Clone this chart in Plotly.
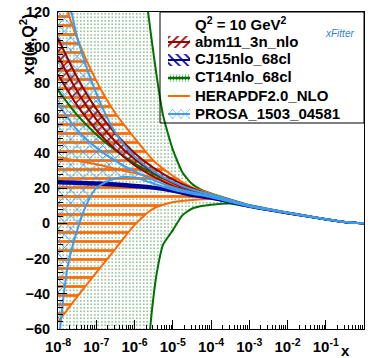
import plotly.graph_objects as go

# ---------------- data ----------------
EXP_STD = [-8, -7.5, -7, -6.5, -6, -5.5, -5, -4.5, -4, -3.5, -3, -2.5, -2, -1.5, -1, -0.5, 0]

ABM_UP  = [105, 83, 65, 51, 40, 31.5, 25, 20, 16.2, 13.0, 10.2, 8.0, 6.05, 4.2, 2.38, 0.75, 0.0]
ABM_CEN = [95, 75, 59, 46.5, 36.5, 29, 23, 18.8, 15.6, 12.6, 9.9, 7.8, 5.9, 4.1, 2.3, 0.7, 0.0]
ABM_LO  = [84.5, 67, 53, 42, 33, 26.5, 21.2, 17.6, 15.0, 12.2, 9.6, 7.6, 5.75, 4.0, 2.22, 0.65, 0.0]

CJ_UP  = [24.0, 23.7, 23.3, 22.7, 21.9, 20.8, 18.9, 16.3, 14.6, 12.2, 9.8, 7.8, 5.95, 4.15, 2.35, 0.72, 0.0]
CJ_CEN = [23.3, 23.0, 22.6, 22.0, 21.2, 20.2, 18.4, 15.9, 14.3, 12.0, 9.6, 7.7, 5.85, 4.1, 2.3, 0.7, 0.0]
CJ_LO  = [22.6, 22.3, 21.9, 21.3, 20.5, 19.6, 17.9, 15.5, 14.0, 11.8, 9.4, 7.6, 5.75, 4.05, 2.25, 0.68, 0.0]

CT_CEN = [75.5, 61.5, 50.5, 41.5, 34, 28, 23, 18.8, 15.4, 12.5, 9.8, 7.8, 5.9, 4.1, 2.3, 0.7, 0.0]
EXP_CT_UP = [-8, -7, -6.25, -6, -5.75, -5.5, -5.25, -5, -4.75, -4.5, -4.25, -4, -3.5, -3, -2.5, -2, -1.5, -1, -0.5, 0]
CT_UP = [1500, 700, 280, 205, 140, 96, 61, 42, 29, 22.5, 19, 17, 13.6, 10.4, 8.2, 6.2, 4.3, 2.45, 0.8, 0.0]
EXP_CT_LO = [-8, -7, -6.25, -6, -5.75, -5.6, -5.5, -5.4, -5.25, -5, -4.75, -4.5, -4.25, -4, -3.5, -3, -2.5, -2, -1.5, -1, -0.5, 0]
CT_LO = [-1500, -700, -330, -250, -110, -62, -41, -26, -12, -4, 4.5, 8.3, 9.8, 10.6, 11.3, 9.3, 7.4, 5.6, 3.9, 2.15, 0.6, 0.0]

HERA_UP  = [137, 105, 81, 62.5, 48.5, 35.5, 27, 20.5, 16.8, 13.2, 10.2, 8.0, 6.05, 4.2, 2.38, 0.75, 0.0]
HERA_CEN = [37.5, 35.5, 33.5, 31, 28.5, 26, 22.5, 19, 16, 12.7, 9.9, 7.8, 5.9, 4.1, 2.3, 0.7, 0.0]
HERA_LO  = [-56, -41.7, -28, -14.5, -1, 8.5, 12, 13.2, 13.8, 12.0, 9.5, 7.6, 5.75, 4.0, 2.2, 0.65, 0.0]

PROSA_UP  = [160, 106, 74, 51.5, 38, 29.5, 23.5, 19.2, 16.4, 13.3, 10.3, 8.1, 6.15, 4.25, 2.42, 0.78, 0.0]
PROSA_CEN = [68, 53, 43, 35.5, 29.5, 24.5, 20.5, 17.6, 15.6, 12.8, 10.0, 7.9, 6.0, 4.15, 2.35, 0.72, 0.0]
EXP_PR_LO = [-8, -7.75, -7.5, -7.25, -7, -6.5, -6, -5.5, -5, -4.5, -4, -3.5, -3, -2.5, -2, -1.5, -1, -0.5, 0]
PROSA_LO  = [-72, -25, -4, 11, 20, 25.5, 26.0, 22.5, 19.2, 16.8, 14.8, 12.2, 9.6, 7.7, 5.85, 4.05, 2.25, 0.68, 0.0]

NAMES = ["abm11_3n_nlo", "CJ15nlo_68cl", "CT14nlo_68cl", "HERAPDF2.0_NLO", "PROSA_1503_04581"]
X_TICK_EXP = [-8, -7, -6, -5, -4, -3, -2, -1, 0]
X_TICK_TEXT = ["10<sup>-8</sup>", "10<sup>-7</sup>", "10<sup>-6</sup>", "10<sup>-5</sup>",
               "10<sup>-4</sup>", "10<sup>-3</sup>", "10<sup>-2</sup>", "10<sup>-1</sup>", "1"]

# ---------------- styling ----------------
ABM_C = "#990000"
CJ_C = "#000099"
CT_C = "#007000"
CT_DOT = "#3f8f3f"
HERA_C = "#ff6a00"
PROSA_C = "#3d9cf0"
FONT = "Liberation Sans, Arial, sans-serif"

W, H = 368, 358
L, R, T, B = 58, 4, 12, 29
PW, PH = W - L - R, H - T - B
XMIN, XMAX, YMIN, YMAX = -8.0, 0.0, -60.0, 120.0


def px2x(px):
    return (px - L) / PW


def py2y(py):
    return (H - B - py) / PH


def px2data(px):
    return 10.0 ** (XMIN + (px - L) / PW * (XMAX - XMIN))


def py2data(py):
    return YMAX - (py - T) / PH * (YMAX - YMIN)


def xs(exps):
    return [10.0 ** e for e in exps]


def patt(color, shape, size, solidity):
    return dict(shape=shape, fgcolor=color, bgcolor="rgba(0,0,0,0)",
                size=size, solidity=solidity, fillmode="replace")


def band(exp_up, up, exp_lo, lo, color, shape, size, solidity, smooth=0.8):
    return go.Scatter(
        x=xs(exp_up) + xs(exp_lo)[::-1], y=list(up) + list(lo)[::-1],
        mode="lines", fill="toself",
        line=dict(width=0, color=color, shape="spline", smoothing=smooth),
        fillcolor=color, fillpattern=patt(color, shape, size, solidity),
        hoverinfo="skip", showlegend=False)


def curve(exps, ys, color, width=2, smooth=0.8):
    return go.Scatter(x=xs(exps), y=ys, mode="lines",
                      line=dict(color=color, width=width, shape="spline", smoothing=smooth),
                      hoverinfo="skip", showlegend=False)


fig = go.Figure()

# fills
fig.add_trace(band(EXP_CT_UP, CT_UP, EXP_CT_LO, CT_LO, CT_DOT, ".", 3.5, 0.14, smooth=0.5))
fig.add_trace(band(EXP_STD, HERA_UP, EXP_STD, HERA_LO, HERA_C, "-", 9, 0.3))
fig.add_trace(band(EXP_STD, PROSA_UP, EXP_PR_LO, PROSA_LO, PROSA_C, "x", 9, 0.2))
fig.add_trace(band(EXP_STD, ABM_UP, EXP_STD, ABM_LO, ABM_C, "/", 7, 0.2))
fig.add_trace(band(EXP_STD, CJ_UP, EXP_STD, CJ_LO, CJ_C, "\\", 5, 0.3))

# lines
fig.add_trace(curve(EXP_CT_UP, CT_UP, CT_C, smooth=0.5))
fig.add_trace(curve(EXP_STD, CT_CEN, CT_C))
fig.add_trace(curve(EXP_CT_LO, CT_LO, CT_C, smooth=0.5))
for ys in [HERA_UP, HERA_CEN, HERA_LO]:
    fig.add_trace(curve(EXP_STD, ys, HERA_C))
for ys in [ABM_UP, ABM_CEN, ABM_LO]:
    fig.add_trace(curve(EXP_STD, ys, ABM_C))
for ys in [CJ_UP, CJ_CEN, CJ_LO]:
    fig.add_trace(curve(EXP_STD, ys, CJ_C))
for e, ys in [(EXP_STD, PROSA_UP), (EXP_STD, PROSA_CEN), (EXP_PR_LO, PROSA_LO)]:
    fig.add_trace(curve(e, ys, PROSA_C))

# hand-drawn legend (symbols in the plot area, texts as annotations)
LEG_X0, LEG_X1 = 168, 190
LEG_Y0, LEG_DY = 42, 18
leg_styles = [
    (ABM_C, "/", 6, 0.3, 6),
    (CJ_C, "\\", 6, 0.3, 6),
    (CT_DOT, ".", 3, 0.3, 4),
    (HERA_C, None, 0, 0, 0),
    (PROSA_C, "x", 6, 0.2, 5),
]
line_cols = [ABM_C, CJ_C, CT_C, HERA_C, PROSA_C]
annotations = []
for i, (name, (fc, shp, sz, sol, half), lc) in enumerate(zip(NAMES, leg_styles, line_cols)):
    cy = LEG_Y0 + i * LEG_DY
    xa, xb = px2data(LEG_X0), px2data(LEG_X1)
    if shp is not None:
        ya, yb = py2data(cy - half), py2data(cy + half)
        fig.add_trace(go.Scatter(x=[xa, xb, xb, xa, xa], y=[ya, ya, yb, yb, ya], mode="lines",
                                 fill="toself", line=dict(width=0), fillcolor=fc,
                                 fillpattern=patt(fc, shp, sz, sol),
                                 hoverinfo="skip", showlegend=False))
    fig.add_trace(go.Scatter(x=[xa, xb], y=[py2data(cy)] * 2, mode="lines",
                             line=dict(color=lc, width=2), hoverinfo="skip", showlegend=False))
    annotations.append(dict(text=name, xref="paper", yref="paper", x=px2x(193), y=py2y(cy - 1),
                            xanchor="left", yanchor="middle", showarrow=False,
                            font=dict(family=FONT, size=15, weight="bold")))

minor_x = [k * 10.0 ** n for n in range(-8, 0) for k in range(2, 10)]

annotations += [
    dict(text="xg(x,Q<sup>2</sup>)", xref="paper", yref="paper", x=px2x(27), y=py2y(45),
         xanchor="center", yanchor="middle", textangle=-90, showarrow=False,
         font=dict(family=FONT, size=16, weight="bold")),
    dict(text="x", xref="paper", yref="paper", x=px2x(345), y=py2y(350),
         xanchor="center", yanchor="middle", showarrow=False,
         font=dict(family=FONT, size=15, weight="bold")),
    dict(text="Q<sup>2</sup> = 10 GeV<sup>2</sup>", xref="paper", yref="paper",
         x=px2x(193), y=py2y(23), xanchor="left", yanchor="middle", showarrow=False,
         font=dict(family=FONT, size=15, weight="bold")),
    dict(text="<i>xFitter</i>", xref="paper", yref="paper", x=px2x(339), y=py2y(33),
         xanchor="center", yanchor="middle", showarrow=False,
         font=dict(family=FONT, size=10, color="#2f7fe0", weight="normal")),
]

fig.update_layout(
    width=W, height=H,
    margin=dict(l=L, r=R, t=T, b=B, pad=0),
    paper_bgcolor="white", plot_bgcolor="white",
    font=dict(family=FONT, size=15, color="black", weight="bold"),
    showlegend=False,
    xaxis=dict(type="log", range=[XMIN, XMAX], showline=True, linecolor="black", linewidth=1,
               mirror=True, ticks="inside", ticklen=9, tickwidth=1, tickcolor="black",
               tickvals=xs(X_TICK_EXP), ticktext=X_TICK_TEXT, showgrid=False, zeroline=False,
               tickfont=dict(family=FONT, size=15, weight="bold"), ticklabelstandoff=4,
               minor=dict(ticks="inside", ticklen=4, tickwidth=1, tickcolor="black",
                          tickvals=minor_x, showgrid=False),
               layer="above traces"),
    yaxis=dict(range=[YMIN, YMAX], showline=True, linecolor="black", linewidth=1,
               mirror=True, ticks="inside", ticklen=9, tickwidth=1, tickcolor="black",
               dtick=20, tick0=0, showgrid=False, zeroline=False,
               tickfont=dict(family=FONT, size=14.5, weight="bold"), ticklabelstandoff=4,
               minor=dict(ticks="inside", ticklen=4.5, tickwidth=1, tickcolor="black",
                          dtick=4, showgrid=False),
               layer="above traces"),
    shapes=[dict(type="rect", xref="paper", yref="paper",
                 x0=px2x(160), x1=1.0, y0=py2y(123), y1=1.0,
                 line=dict(color="black", width=1), fillcolor="rgba(0,0,0,0)")],
    annotations=annotations,
)

fig.write_html("out.html", config={"displayModeBar": False},
               post_script="document.body.style.margin='0';")
